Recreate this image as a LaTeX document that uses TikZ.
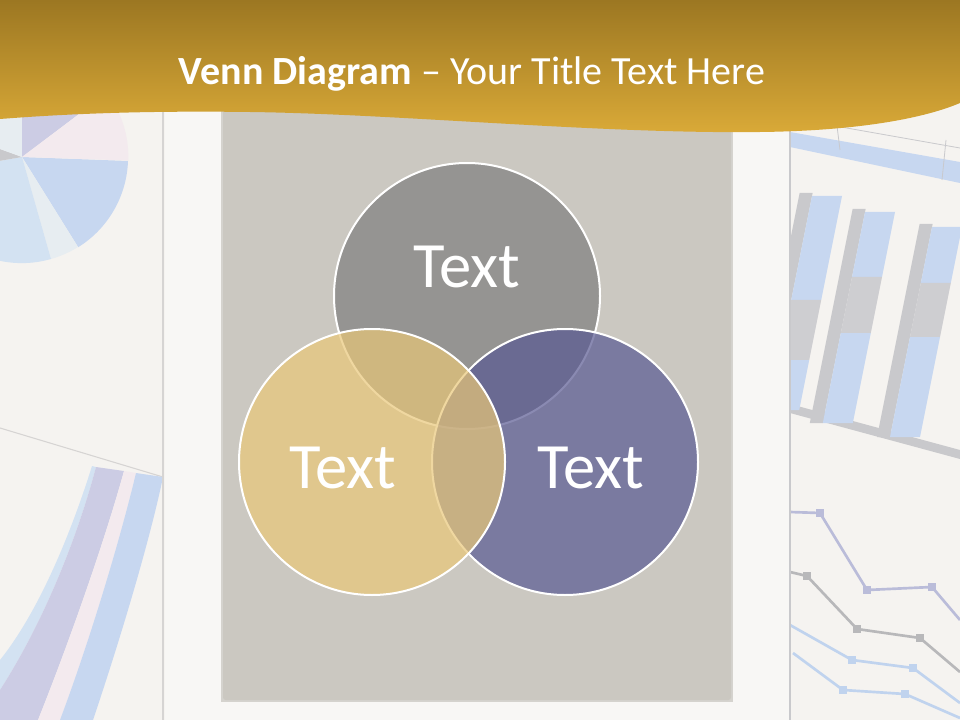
\documentclass[tikz,border=0pt]{standalone}
\usepackage{fontspec}
\setmainfont{Carlito}
\usetikzlibrary{positioning}
\definecolor{cPaper}{HTML}{F5F3F0}
\definecolor{cSheet}{HTML}{F8F7F5}
\definecolor{cEdge}{HTML}{D6D4D3}
\definecolor{cPanel}{HTML}{CBC8C1}
\definecolor{cGoldTop}{HTML}{9C7722}
\definecolor{cGoldLow}{HTML}{DAAA38}
\definecolor{cSetA}{RGB}{127,126,127}
\definecolor{cSetB}{RGB}{233,199,120}
\definecolor{cSetC}{RGB}{89,89,146}
\definecolor{cBlue}{HTML}{C7D7F0}
\definecolor{cSky}{HTML}{D3E2F2}
\definecolor{cLav}{HTML}{CCCCE4}
\definecolor{cPink}{HTML}{F3EAEE}
\definecolor{cPale}{HTML}{E7EDF1}
\definecolor{cMist}{HTML}{C9C9CC}
\definecolor{cLineLav}{HTML}{BABCD9}
\definecolor{cLineGrey}{HTML}{B8B8BA}
\definecolor{cLineBlue}{HTML}{C0D3EE}
\tikzset{
  venn/.style={circle,minimum size=199.5pt,inner sep=0pt,draw=white,
               line width=1.5pt,fill opacity=0.7},
  vtext/.style={inner sep=0pt,text=white,font=\fontsize{48.5}{56}\selectfont},
  title/.style={inner sep=0pt,anchor=base,text=white,font=\fontsize{30}{36}\selectfont},
  chartline/.style={line width=2pt,line join=round},
  dot/.style={minimum size=6pt,inner sep=0pt}
}

\begin{document}
\begin{tikzpicture}[x=0.75pt,y=-0.75pt]
  \useasboundingbox (0,0) rectangle (960,720);
  % Background: faded sheets with charts.
  \fill[cPaper] (0,0) rectangle (960,720);
  \fill[cSheet] (165,0) rectangle (790,720);
  \begin{scope}
    \clip (0,0) rectangle (162,720);
    \fill[cBlue] (22,157) -- (128,161) arc[start angle=2,end angle=58,radius=106] -- cycle;
    \fill[cPale] (22,157) -- (78,247) arc[start angle=58,end angle=74,radius=106] -- cycle;
    \fill[cSky] (22,157) -- (51,259) arc[start angle=74,end angle=170,radius=106] -- cycle;
    \fill[cMist] (22,157) -- (-82,175) arc[start angle=170,end angle=200,radius=106] -- cycle;
    \fill[cPale] (22,157) -- (-78,121) arc[start angle=200,end angle=270,radius=106] -- cycle;
    \fill[cLav] (22,157) -- (22,51) arc[start angle=270,end angle=323,radius=106] -- cycle;
    \fill[cPink] (22,157) -- (107,93) arc[start angle=323,end angle=362,radius=106] -- cycle;
    \draw[cEdge,line width=0.8pt] (0,428) -- (163,477);
    \fill[cSky] (92,466) .. controls (72,530) and (40,610) .. (0,660) -- (0,690)
      .. controls (45,620) and (78,535) .. (96,467) -- cycle;
    \fill[cLav] (96,467) .. controls (78,535) and (45,620) .. (0,690) -- (0,720) -- (38,720)
      .. controls (70,640) and (105,540) .. (124,471) -- cycle;
    \fill[cPink] (124,471) .. controls (105,540) and (70,640) .. (38,720) -- (60,720)
      .. controls (90,640) and (120,540) .. (136,473) -- cycle;
    \fill[cBlue] (136,473) .. controls (120,540) and (90,640) .. (60,720) -- (93,720)
      .. controls (120,640) and (150,540) .. (163,477) -- cycle;
  \end{scope}
  \draw[cEdge,line width=2.2pt] (163,100) -- (163,720);

  \begin{scope}
    \clip (791,0) rectangle (960,720);
    \fill[cBlue] (790,132) -- (960,162) -- (960,183) -- (790,147) -- cycle;
    \draw[cMist,line width=0.6pt] (790,118) -- (960,148) (836,118) -- (840,150) (946,140) -- (942,180);
    \fill[cMist] (790,404) -- (960,450) -- (960,459) -- (790,413) -- cycle;
    \foreach \xt/\yt/\ya/\yg/\yb in {812/196/104/164/214,865/212/65/121/211,932/227/56/110/210}{
      \begin{scope}[shift={(\xt,\yt)},xslant=0.2]
        \fill[cMist] (-13,-3) rectangle (0,\yb);
        \fill[cBlue] (0,0) rectangle (30,\ya);
        \fill[cMist!90!white] (0,\ya) rectangle (30,\yg);
        \fill[cBlue] (0,\yg) rectangle (30,\yb);
      \end{scope}
    }
    \draw[chartline,cLineLav] (790,512) -- (820,513) -- (867,590) -- (932,587) -- (960,620);
    \draw[chartline,cLineGrey] (790,572) -- (807,576) -- (857,629) -- (920,638) -- (960,672);
    \draw[chartline,cLineBlue] (790,625) -- (852,660) -- (913,668) -- (960,703);
    \draw[chartline,cLineBlue] (793,653) -- (843,690) -- (905,694) -- (960,718);
    \foreach \px/\py/\pc in {820/513/cLineLav,867/590/cLineLav,932/587/cLineLav,
        807/576/cLineGrey,857/629/cLineGrey,920/638/cLineGrey,
        852/660/cLineBlue,913/668/cLineBlue,843/690/cLineBlue,905/694/cLineBlue}
      \node[dot,fill=\pc] at (\px,\py) {};
  \end{scope}
  \draw[cMist,line width=1.5pt] (790,100) -- (790,720);

  % Panel and header band.
  \fill[cPanel!80!white] (221,101) rectangle (733,702);
  \fill[cPanel,rounded corners=2pt] (223,100) rectangle (731,700);
  \shade[top color=cGoldTop,bottom color=cGoldLow]
    (0,0) -- (960,0) -- (960,103)
    .. controls (920,120) and (850,131) .. (760,132)
    .. controls (600,134) and (400,114) .. (250,112)
    .. controls (170,111) and (90,112) .. (0,119) -- cycle;
  \node[title] (ttl) at (472,85) {\textbf{Venn Diagram} – Your Title Text Here};

  % Venn circles: top, right, then left on top.
  \node[venn,fill=cSetA] (vtop) at (467,296) {};
  \node[venn,fill=cSetC] (vright) at (565,462) {};
  \node[venn,fill=cSetB] (vleft) at (372,462) {};
  \node[vtext] (ttop) at (467,267) {Text};
  \node[vtext] (tleft) at (343,468) {Text};
  \node[vtext] (tright) at (591,468) {Text};
\end{tikzpicture}
\end{document}
